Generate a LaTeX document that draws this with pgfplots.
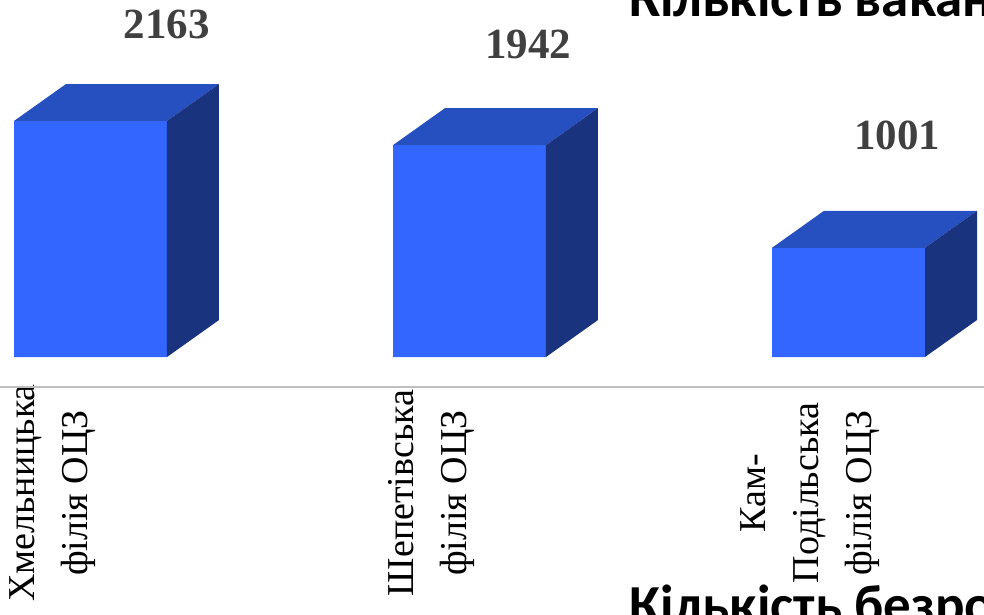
\documentclass[border=0pt]{standalone}
\usepackage{pgfplots}
\pgfplotsset{compat=1.18}
\usepackage{fontspec}
\setmainfont{Liberation Serif}
\newfontfamily\titlefont{Carlito}
\definecolor{frontc}{HTML}{3366FF}
\definecolor{topc}{HTML}{264FBF}
\definecolor{sidec}{HTML}{1A337F}
\definecolor{valc}{HTML}{404040}
\begin{document}
\begin{tikzpicture}
\useasboundingbox (0,0) rectangle (984pt,614pt);
\clip (0,0) rectangle (984pt,614pt);
\begin{axis}[
 at={(0,0)}, anchor=south west, scale only axis,
 width=984pt, height=614pt,
 xmin=-0.2388, xmax=2.3575, ymin=-2355.4, ymax=3271.9,
 axis line style={draw=none},
 ytick=\empty,
 xtick={0,1,2},
 xticklabels={{Хмельницька\\філія ОЦЗ},{Шепетівська\\філія ОЦЗ},{Кам-\\Подільська\\філія ОЦЗ}},
 major tick length=0pt,
 xticklabel style={anchor=center, xshift=-38pt, yshift=121pt, rotate=90, align=center, font=\fontsize{38pt}{53pt}\selectfont, inner sep=0pt},
 extra y ticks={-275}, extra y tick labels={},
 extra y tick style={grid=major, major grid style={draw=black!25, line width=1.2pt}},
 clip=false,
]
% front faces
\addplot[ybar, bar width=153pt, bar shift=0pt, fill=frontc, draw=none] coordinates {(0,2163) (1,1942) (2,1001)};
% top faces
\addplot[fill=topc, draw=none] coordinates {(-0.2018,2163) (0.2018,2163) (0.3390,2502) (-0.0646,2502)} -- cycle;
\addplot[fill=topc, draw=none] coordinates {(0.7982,1942) (1.2018,1942) (1.3390,2281) (0.9354,2281)} -- cycle;
\addplot[fill=topc, draw=none] coordinates {(1.7982,1001) (2.2018,1001) (2.3390,1340) (1.9354,1340)} -- cycle;
% side faces
\addplot[fill=sidec, draw=none] coordinates {(0.2018,0) (0.3390,339) (0.3390,2502) (0.2018,2163)} -- cycle;
\addplot[fill=sidec, draw=none] coordinates {(1.2018,0) (1.3390,339) (1.3390,2281) (1.2018,1942)} -- cycle;
\addplot[fill=sidec, draw=none] coordinates {(2.2018,0) (2.3390,339) (2.3390,1340) (2.2018,1001)} -- cycle;
% value labels
\addplot[draw=none, nodes near coords, point meta=explicit symbolic,
 every node near coord/.append style={anchor=center, inner sep=0pt, text=valc, font=\bfseries\fontsize{43pt}{50pt}\selectfont}]
 coordinates {(0.2018,3052)[2163] (1.1544,2860)[1942] (2.1280,2035)[1001]};
\end{axis}
\node[anchor=base west, inner sep=0pt, font=\titlefont\bfseries\fontsize{55pt}{60pt}\selectfont] at (629pt,597pt) {Кількість вакансій};
\node[anchor=base west, inner sep=0pt, font=\titlefont\bfseries\fontsize{55pt}{60pt}\selectfont] at (629pt,-9pt) {Кількість безробітних};
\end{tikzpicture}
\end{document}
